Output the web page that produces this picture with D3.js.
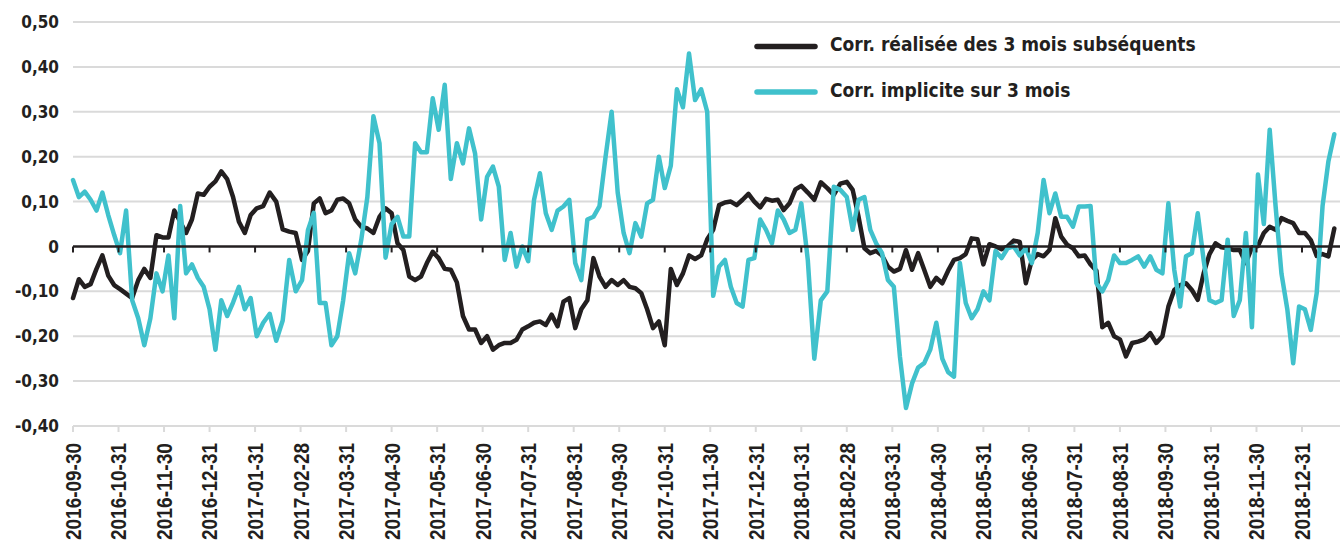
<!DOCTYPE html>
<html>
<head>
<meta charset="utf-8">
<title>Corrélations</title>
<script src="https://cdnjs.cloudflare.com/ajax/libs/d3/7.8.5/d3.min.js"></script>
<style>
  body { margin: 0; background: #fff; }
</style>
</head>
<body>
<script>
  // month-end labels on the x axis
  var monthLabels = ["2016-09-30","2016-10-31","2016-11-30","2016-12-31","2017-01-31","2017-02-28",
    "2017-03-31","2017-04-30","2017-05-31","2017-06-30","2017-07-31","2017-08-31","2017-09-30",
    "2017-10-31","2017-11-30","2017-12-31","2018-01-31","2018-02-28","2018-03-31","2018-04-30",
    "2018-05-31","2018-06-30","2018-07-31","2018-08-31","2018-09-30","2018-10-31","2018-11-30",
    "2018-12-31"];
  var yTicks = [-0.4, -0.3, -0.2, -0.1, 0, 0.1, 0.2, 0.3, 0.4, 0.5];

  // one observation every 4 days from the start date
  var startDate = "2016-09-30";
  var stepDays = 4;

  var realized = [
    -0.115,-0.073,-0.09,-0.084,-0.05,-0.02,-0.065,-0.086,-0.095,-0.105,
    -0.115,-0.075,-0.05,-0.07,0.025,0.02,0.02,0.08,0.055,0.03,
    0.06,0.118,0.115,0.133,0.145,0.167,0.15,0.11,0.055,0.03,
    0.07,0.085,0.09,0.12,0.10,0.038,0.033,0.03,-0.03,-0.01,
    0.096,0.107,0.074,0.08,0.104,0.107,0.096,0.06,0.044,0.04,
    0.03,0.066,0.085,0.074,0.007,-0.008,-0.067,-0.075,-0.067,-0.037,
    -0.012,-0.026,-0.05,-0.052,-0.08,-0.155,-0.185,-0.185,-0.215,-0.2,
    -0.23,-0.22,-0.215,-0.215,-0.208,-0.185,-0.178,-0.17,-0.167,-0.175,
    -0.152,-0.178,-0.123,-0.115,-0.182,-0.14,-0.12,-0.026,-0.067,-0.09,
    -0.075,-0.086,-0.075,-0.09,-0.093,-0.104,-0.14,-0.182,-0.167,-0.22,
    -0.05,-0.086,-0.06,-0.02,-0.028,-0.02,0.016,0.037,0.092,0.098,
    0.1,0.092,0.104,0.117,0.1,0.087,0.106,0.102,0.104,0.081,
    0.096,0.127,0.135,0.12,0.104,0.143,0.13,0.115,0.14,0.144,
    0.126,0.066,-0.004,-0.015,-0.01,-0.02,-0.045,-0.056,-0.05,-0.008,
    -0.052,-0.015,-0.052,-0.09,-0.07,-0.082,-0.054,-0.03,-0.026,-0.017,
    0.018,0.016,-0.04,0.005,0,-0.006,0,0.013,0.01,-0.082,
    -0.03,-0.017,-0.022,-0.008,0.063,0.022,0.004,-0.004,-0.022,-0.02,
    -0.04,-0.054,-0.18,-0.17,-0.2,-0.207,-0.245,-0.215,-0.212,-0.207,
    -0.193,-0.215,-0.2,-0.134,-0.097,-0.086,-0.082,-0.097,-0.119,-0.06,
    -0.017,0.007,-0.002,-0.004,-0.008,-0.008,-0.037,-0.002,0.001,0.03,
    0.044,0.037,0.063,0.057,0.052,0.03,0.03,0.014,-0.021,-0.017,
    -0.022,0.04
  ];

  var implied = [
    0.148,0.11,0.122,0.104,0.08,0.12,0.07,0.026,-0.015,0.08,
    -0.12,-0.16,-0.22,-0.16,-0.06,-0.1,-0.02,-0.16,0.09,-0.06,
    -0.04,-0.07,-0.09,-0.14,-0.23,-0.12,-0.155,-0.125,-0.09,-0.14,
    -0.115,-0.2,-0.17,-0.15,-0.21,-0.165,-0.03,-0.1,-0.075,0.036,
    0.075,-0.126,-0.126,-0.22,-0.2,-0.12,-0.015,-0.06,0.015,0.11,
    0.29,0.23,-0.025,0.05,0.066,0.022,0.022,0.23,0.21,0.21,
    0.33,0.26,0.36,0.15,0.23,0.185,0.263,0.207,0.06,0.155,
    0.178,0.133,-0.03,0.03,-0.045,0,-0.033,0.104,0.163,0.074,
    0.037,0.08,0.089,0.104,-0.037,-0.075,0.06,0.066,0.09,0.2,
    0.3,0.12,0.03,-0.015,0.052,0.022,0.096,0.104,0.2,0.13,
    0.18,0.35,0.31,0.43,0.326,0.35,0.3,-0.11,-0.045,-0.03,
    -0.09,-0.126,-0.134,-0.03,-0.026,0.06,0.037,0.007,0.08,0.06,
    0.03,0.037,0.096,-0.03,-0.25,-0.12,-0.1,0.133,0.126,0.11,
    0.037,0.104,0.11,0.037,0.007,-0.015,-0.075,-0.09,-0.245,-0.36,
    -0.305,-0.27,-0.26,-0.23,-0.17,-0.25,-0.28,-0.29,-0.037,-0.126,
    -0.16,-0.14,-0.1,-0.12,-0.01,-0.026,-0.004,0,-0.02,-0.004,
    -0.037,0.03,0.148,0.074,0.118,0.066,0.066,0.044,0.089,0.089,
    0.09,-0.082,-0.1,-0.075,-0.02,-0.037,-0.037,-0.03,-0.022,-0.045,
    -0.022,-0.052,-0.06,0.096,-0.052,-0.134,-0.022,-0.015,0.074,-0.03,
    -0.12,-0.126,-0.12,0.015,-0.155,-0.12,0.03,-0.18,0.16,0.05,
    0.26,0.09,-0.06,-0.14,-0.26,-0.134,-0.14,-0.186,-0.104,0.09,
    0.19,0.25
  ];

  var seriesNames = ["Corr. réalisée des 3 mois subséquents", "Corr. implicite sur 3 mois"];
  var seriesColors = ["#231f20", "#40c1cc"];

  var w = 1342, h = 544;
  var plotLeft = 73, plotRight = 1302, gridEnd = 1340, plotTop = 22, plotBottom = 426;
  var ink = "#231f20";

  var parse = d3.timeParse("%Y-%m-%d");
  var months = monthLabels.map(parse);
  var start = parse(startDate);

  var svg = d3.select("body").append("svg")
    .attr("width", w)
    .attr("height", h);

  // months evenly spaced, as in the original
  var x = d3.scaleTime()
    .domain(months)
    .range(months.map(function(d, i){ return plotLeft + i * (plotRight - plotLeft) / (months.length - 1); }));

  var y = d3.scaleLinear()
    .domain([-0.4, 0.5])
    .range([plotBottom, plotTop]);

  var locale = d3.formatLocale({decimal: ",", thousands: " ", grouping: [3], currency: ["", " €"], minus: "-"});
  var fmt = locale.format(".2f");

  // gridlines
  svg.selectAll("line.grid")
    .data(yTicks.filter(function(d){ return d !== 0; }))
    .enter()
    .append("line")
      .attr("class", "grid")
      .attr("x1", plotLeft)
      .attr("x2", gridEnd)
      .attr("y1", function(d){ return y(d); })
      .attr("y2", function(d){ return y(d); })
      .attr("stroke", "#dadada")
      .attr("stroke-width", 2);

  // y labels
  svg.selectAll("text.ylab")
    .data(yTicks)
    .enter()
    .append("text")
      .attr("class", "ylab")
      .attr("x", 59)
      .attr("y", function(d){ return y(d); })
      .attr("dy", "0.36em")
      .attr("text-anchor", "end")
      .style("font-family", "'DejaVu Sans Condensed', 'DejaVu Sans', sans-serif")
      .style("font-weight", "bold")
      .style("font-size", "17px")
      .attr("fill", ink)
      .text(function(d){ return d === 0 ? "0" : fmt(d); });

  // ticks under the bottom line
  svg.selectAll("line.btick")
    .data(months)
    .enter()
    .append("line")
      .attr("class", "btick")
      .attr("x1", function(d){ return x(d); })
      .attr("x2", function(d){ return x(d); })
      .attr("y1", plotBottom)
      .attr("y2", plotBottom + 6)
      .attr("stroke", "#dadada")
      .attr("stroke-width", 2);

  // x labels
  svg.selectAll("text.xlab")
    .data(months)
    .enter()
    .append("text")
      .attr("class", "xlab")
      .attr("transform", function(d){ return "translate(" + x(d) + "," + (plotBottom + 17) + ") rotate(-90)"; })
      .attr("dy", "0.36em")
      .attr("text-anchor", "end")
      .attr("textLength", 97)
      .attr("lengthAdjust", "spacingAndGlyphs")
      .style("font-family", "'Liberation Sans Narrow', 'Arial Narrow', 'Liberation Sans', Arial, sans-serif")
      .style("font-weight", "bold")
      .style("font-size", "22px")
      .attr("fill", ink)
      .text(function(d, i){ return monthLabels[i]; });

  // series
  var line = d3.line()
    .x(function(d, i){ return x(d3.timeDay.offset(start, i * stepDays)); })
    .y(function(d){ return y(d); });

  [realized, implied].forEach(function(values, k){
    svg.append("path")
      .datum(values)
      .attr("d", line)
      .attr("fill", "none")
      .attr("stroke", seriesColors[k])
      .attr("stroke-width", 4.5)
      .attr("stroke-linejoin", "round")
      .attr("stroke-linecap", "round");
  });

  // zero line with its ticks
  svg.append("line")
    .attr("x1", plotLeft)
    .attr("x2", gridEnd)
    .attr("y1", y(0))
    .attr("y2", y(0))
    .attr("stroke", ink)
    .attr("stroke-width", 2.5);

  svg.selectAll("line.ztick")
    .data(months)
    .enter()
    .append("line")
      .attr("class", "ztick")
      .attr("x1", function(d){ return x(d); })
      .attr("x2", function(d){ return x(d); })
      .attr("y1", y(0))
      .attr("y2", y(0) + 6)
      .attr("stroke", ink)
      .attr("stroke-width", 2);

  // legend
  var legend = svg.selectAll("g.legend")
    .data(seriesNames)
    .enter()
    .append("g")
      .attr("class", "legend")
      .attr("transform", function(d, i){ return "translate(757," + (46.5 + i * 45.5) + ")"; });

  legend.append("line")
    .attr("x1", 0)
    .attr("x2", 58)
    .attr("stroke", function(d, i){ return seriesColors[i]; })
    .attr("stroke-width", 5.5)
    .attr("stroke-linecap", "round");

  legend.append("text")
    .attr("x", 73)
    .attr("y", 4.5)
    .style("font-family", "'DejaVu Sans Condensed', 'DejaVu Sans', sans-serif")
    .style("font-weight", "bold")
    .style("font-size", "19px")
    .attr("fill", ink)
    .text(function(d){ return d; });
</script>
</body>
</html>
